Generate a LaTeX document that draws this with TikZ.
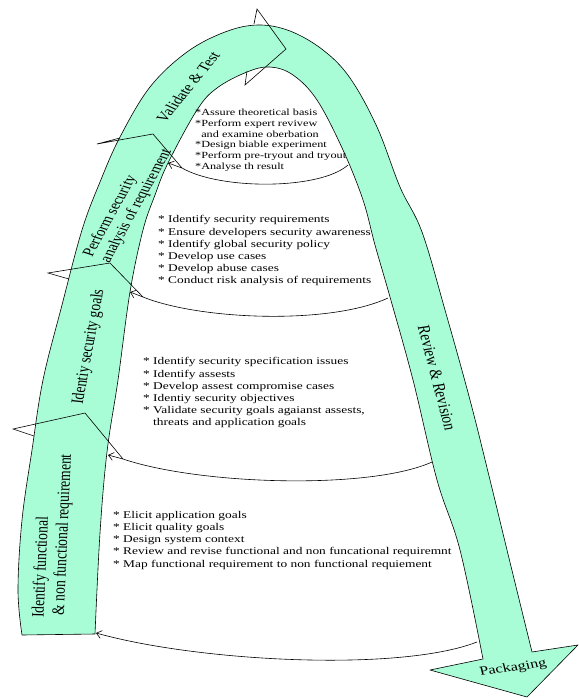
\documentclass[tikz,border=0pt]{standalone}
\usepackage{fontspec}
\setmainfont{Liberation Serif}
\newfontfamily\listfont[FakeStretch=1.3]{Liberation Serif}
\usetikzlibrary{arrows.meta}
\definecolor{mint}{HTML}{A8FCD6}
\begin{document}
\begin{tikzpicture}[x=1pt,y=-1pt,
  band/.style={fill=mint,draw=black,line width=0.6pt,line join=round},
  headline/.style={draw=black,line width=0.6pt,line join=miter},
  sep/.style={draw=black,line width=0.6pt,-{Straight Barb[length=5pt,width=8pt]}},
  lista/.style={anchor=north west,inner sep=0pt,align=left,font=\listfont\fontsize{10.3}{12.2}\selectfont},
  listb/.style={anchor=north west,inner sep=0pt,align=left,font=\listfont\fontsize{9.4}{10.9}\selectfont},
  lab/.style={inner sep=0pt,transform shape,align=left,font=\fontsize{13.5}{15.5}\selectfont}]
\useasboundingbox (0,0) rectangle (578,698);
% main band
\path[band] plot[smooth,tension=0.6] coordinates {(22,635) (18,590) (22,520) (32,450) (43,380) (62,305) (82,230) (100,182) (120,137) (150,87) (187,52) (225,32) (258,25) (290,31) (323,50) (350,78) (377,127) (400,187) (422,232) (445,310) (470,400) (490,480) (507,550) (532,652)}
  -- (578,645) -- (527,697) -- (430,670) --
  plot[smooth,tension=0.6] coordinates {(483,659) (460,550) (437,480) (413,380) (390,297) (375,245) (363,200) (343,150) (317,100) (293,75) (270,67) (247,72) (217,88) (197,110) (168,163) (155,195) (143,230) (130,292) (118,380) (107,452) (100,533) (95,634)} -- cycle;
% arrowheads of segments
\draw[headline] (34,436) -- (13,429) -- (85,413) -- (123,459);
\draw[headline] (69,279) -- (48,273) -- (110,263) -- (143,297);
\draw[headline] (120,138) -- (97,144) -- (153,134) -- (182,168);
\draw[headline] (254,24) -- (257,9) -- (286,49) -- (245,85) -- (247,71);
% separator connectors
\coordinate (s1a) at (477,642); \coordinate (s1b) at (96,633);
\coordinate (s2a) at (432,462); \coordinate (s2m) at (123,459); \coordinate (s2b) at (108,455);
\coordinate (s3a) at (388,298); \coordinate (s3m) at (143,297); \coordinate (s3b) at (130,292);
\coordinate (s4a) at (348,165); \coordinate (s4m) at (182,168); \coordinate (s4b) at (168,163);
\draw[sep] (s1a) .. controls (400,672) and (200,662) .. (s1b);
\draw[sep] (s2a) .. controls (370,490) and (200,485) .. (s2m) -- (s2b);
\draw[sep] (s3a) .. controls (330,325) and (200,320) .. (s3m) -- (s3b);
\draw[sep] (s4a) .. controls (320,190) and (220,190) .. (s4m) -- (s4b);
% lists
\node[listb] (t1) at (195,108.5) {*Assure theoretical basis\\*Perform expert revivew\\\phantom{*}and examine oberbation\\*Design biable experiment\\*Perform pre-tryout and tryout\\*Analyse th result};
\node[lista] (t2) at (158,215.5) {* Identify security requirements\\* Ensure developers security awareness\\* Identify global security policy\\* Develop use cases\\* Develop abuse cases\\* Conduct risk analysis of requirements};
\node[lista] (t3) at (143,357.5) {* Identify security specification issues\\* Identify assests\\* Develop assest compromise cases\\* Identiy security objectives\\* Validate security goals agaianst assests,\\\phantom{* }threats and application goals};
\node[lista] (t4) at (113,511) {* Elicit application goals\\* Elicit quality goals\\* Design system context\\* Review and revise functional and non funcational requiremnt\\* Map functional requirement to non functional requiement};
% band labels
\begin{scope}[shift={(53,536)},xscale=1.3]
\node[lab,rotate=88] (l1) at (0,0) {Identify functional\\\ \& non functional requirement};
\end{scope}
\begin{scope}[shift={(89,347)},xscale=1.3]
\node[lab,rotate=82] (l2) at (0,0) {Identiy security goals};
\end{scope}
\begin{scope}[shift={(128,203)},xscale=1.3]
\node[lab,rotate=67,font=\fontsize{13}{14.5}\selectfont] (l3) at (0,0) {Perform security\\analysis of requirement};
\end{scope}
\begin{scope}[shift={(188,87)},xscale=1.3]
\node[lab,rotate=58,font=\fontsize{13}{15}\selectfont] (l4) at (0,0) {Validate \& Test};
\end{scope}
\begin{scope}[shift={(437,378)},xscale=1.3]
\node[lab,rotate=-78.6] (l5) at (0,0) {Review \& Revision};
\end{scope}
\begin{scope}[shift={(513,668)},xscale=1.3]
\node[lab,rotate=11,font=\fontsize{12.5}{15}\selectfont] (l6) at (0,0) {Packaging};
\end{scope}
\end{tikzpicture}
\end{document}
